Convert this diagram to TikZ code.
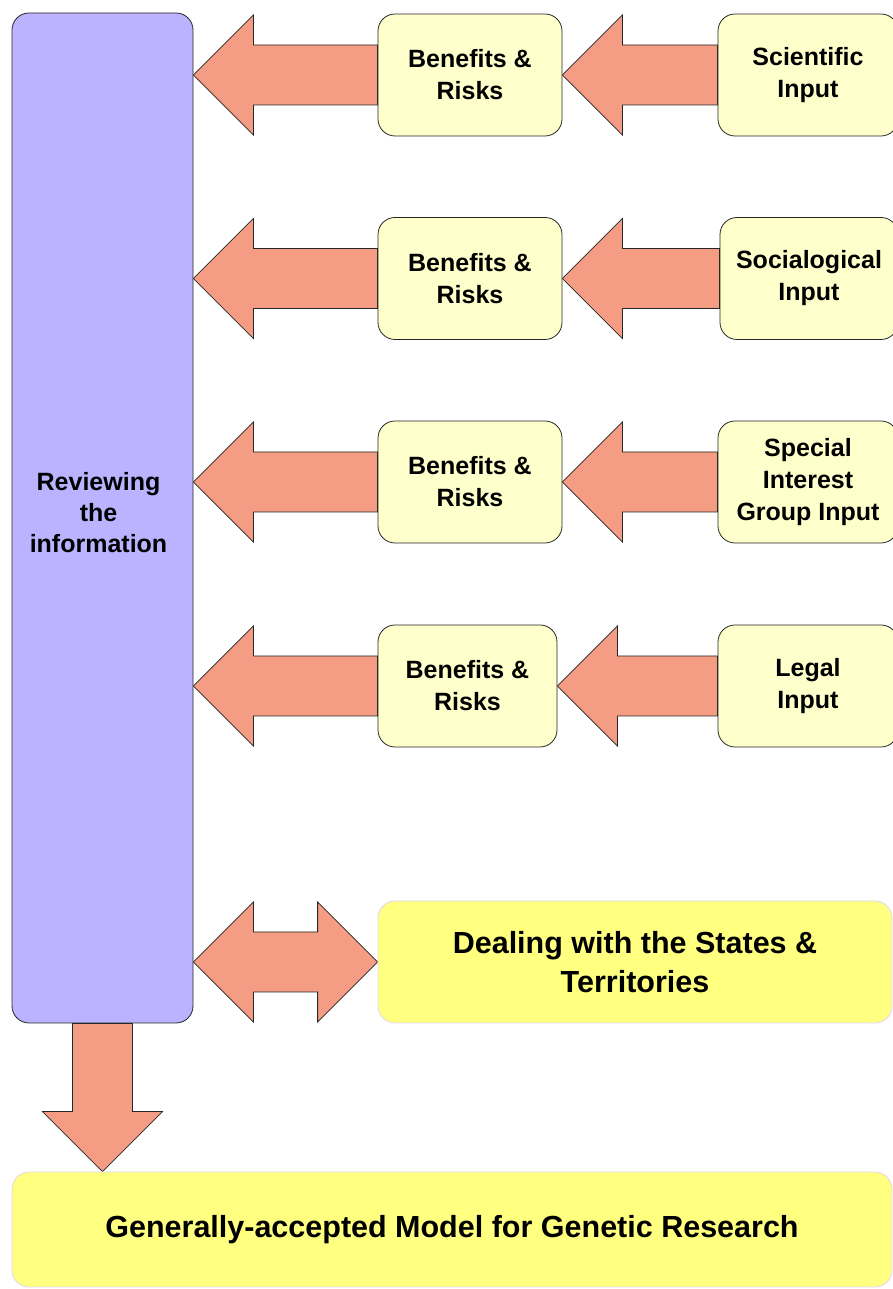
\documentclass[tikz,border=0pt]{standalone}
\usepackage{fontspec}
\setmainfont{Liberation Sans}
\usetikzlibrary{calc}
\definecolor{purp}{RGB}{187,179,255}
\definecolor{pale}{RGB}{255,255,204}
\definecolor{salmon}{RGB}{244,156,132}
\definecolor{yel}{RGB}{255,255,128}
\definecolor{lav}{RGB}{228,212,245}
\pgfdeclarelayer{bg}
\pgfsetlayers{bg,main}
\newcommand{\blkleft}[2]{% #1 = start (right end), #2 = tip (left)
  \path[blockarrow] let \p1=(#2), \p2=(#1) in
    (\x1,\y1) -- (\x1+60pt,\y1+60pt) -- (\x1+60pt,\y1+30pt) -- (\x2,\y1+30pt)
    -- (\x2,\y1-30pt) -- (\x1+60pt,\y1-30pt) -- (\x1+60pt,\y1-60pt) -- cycle;}
\begin{document}
\begin{tikzpicture}[x=1pt,y=1pt,
  box/.style={draw=black!85, line width=0.8pt, rounded corners=17pt, inner sep=0pt,
    align=center, font=\fontsize{25}{32}\selectfont\bfseries},
  pbox/.style={box, fill=pale, minimum height=122pt},
  ybox/.style={box, draw=lav, fill=yel, font=\fontsize{30.5}{39}\selectfont\bfseries},
  blockarrow/.style={draw=black!85, line width=0.8pt, fill=salmon, line join=miter}]
\useasboundingbox (0,0) rectangle (893,1289);
\clip (0,0) rectangle (893,1289);

% main review column
\node[box, fill=purp, minimum width=181pt, minimum height=1010pt,
  label={[shift={(-4,5)}, align=center, font=\fontsize{25}{31}\selectfont\bfseries]center:Reviewing\\the\\information}] (rev) at (102.5,771) {};

% benefits & risks boxes
\node[pbox, minimum width=184pt] (br1) at (470,1214) {Benefits \&\\Risks};
\node[pbox, minimum width=184pt] (br2) at (470,1010.5) {Benefits \&\\Risks};
\node[pbox, minimum width=184pt] (br3) at (470,807) {Benefits \&\\Risks};
\node[pbox, minimum width=179pt] (br4) at (467.5,603) {Benefits \&\\Risks};

% input boxes
\node[pbox, minimum width=180pt] (in1) at (808,1214) {Scientific\\Input};
\node[pbox, minimum width=178pt] (in2) at (809,1010.5) {Socialogical\\Input};
\node[pbox, minimum width=180pt] (in3) at (808,807) {Special\\Interest\\Group Input};
\node[pbox, minimum width=180pt] (in4) at (808,603) {Legal\\Input};

% states box
\node[ybox, minimum width=514pt, minimum height=122pt] (deal) at (635,327)
  {Dealing with the States \&\\Territories};

% final model box
\node[ybox, minimum width=880pt, minimum height=115pt] (model) at (452,59.5)
  {Generally-accepted Model for Genetic Research};

\begin{pgfonlayer}{bg}
  \blkleft{br1.west}{rev.east |- br1.west}
  \blkleft{br2.west}{rev.east |- br2.west}
  \blkleft{br3.west}{rev.east |- br3.west}
  \blkleft{br4.west}{rev.east |- br4.west}
  \blkleft{in1.west}{br1.east}
  \blkleft{in2.west}{br2.east}
  \blkleft{in3.west}{br3.east}
  \blkleft{in4.west}{br4.east}
  % double arrow
  \path[blockarrow] let \p1=(rev.east |- deal.west), \p2=(deal.west) in
    (\x1,\y1) -- (\x1+60pt,\y1+60pt) -- (\x1+60pt,\y1+30pt) -- (\x2-60pt,\y1+30pt)
    -- (\x2-60pt,\y1+60pt) -- (\x2,\y1) -- (\x2-60pt,\y1-60pt) -- (\x2-60pt,\y1-30pt)
    -- (\x1+60pt,\y1-30pt) -- (\x1+60pt,\y1-60pt) -- cycle;
  % down arrow
  \path[blockarrow] let \p1=(rev.south), \p2=(rev.south |- model.north) in
    (\x2,\y2) -- (\x2-60pt,\y2+60pt) -- (\x2-30pt,\y2+60pt) -- (\x1-30pt,\y1)
    -- (\x1+30pt,\y1) -- (\x2+30pt,\y2+60pt) -- (\x2+60pt,\y2+60pt) -- cycle;
\end{pgfonlayer}
\end{tikzpicture}
\end{document}
